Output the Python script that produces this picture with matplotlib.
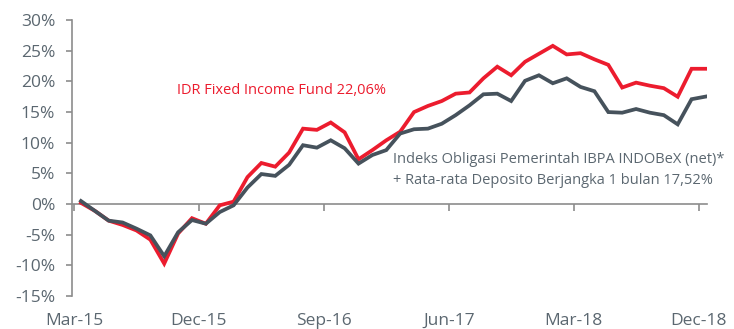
import matplotlib
matplotlib.use("Agg")
import matplotlib.pyplot as plt

# monthly cumulative returns, Mar-15 .. Dec-18 (%)
fund = [0.2, -1.1, -2.7, -3.4, -4.3, -5.8, -9.7, -4.8, -2.3, -3.2,
        -0.2, 0.4, 4.4, 6.7, 6.1, 8.4, 12.3, 12.1, 13.3, 11.7,
        7.3, 8.8, 10.4, 11.8, 15.0, 16.0, 16.8, 18.0, 18.2, 20.5,
        22.4, 21.0, 23.2, 24.5, 25.8, 24.4, 24.6, 23.6, 22.7, 19.0,
        19.8, 19.3, 18.9, 17.5, 22.06, 22.06]
bench = [0.5, -1.1, -2.7, -3.0, -4.0, -5.1, -8.5, -4.6, -2.6, -3.2,
         -1.3, -0.2, 2.7, 4.9, 4.6, 6.4, 9.6, 9.2, 10.4, 9.1,
         6.6, 8.0, 8.8, 11.5, 12.2, 12.3, 13.1, 14.5, 16.1, 17.9,
         18.0, 16.8, 20.1, 21.0, 19.7, 20.5, 19.1, 18.4, 15.0, 14.9,
         15.5, 14.9, 14.5, 13.0, 17.1, 17.52]
month_labels = ["Mar-15", "Dec-15", "Sep-16", "Jun-17", "Mar-18", "Dec-18"]
y_ticks = [-15, -10, -5, 0, 5, 10, 15, 20, 25, 30]

red = "#ec1c2e"
dark = "#46525c"
txt = "#5b6770"
axis_col = "#8c8c8c"

plt.rcParams["font.family"] = ["Open Sans", "DejaVu Sans"]

fig = plt.figure(figsize=(7.34, 3.29), dpi=100)
ax = fig.add_axes([0.098, 0.100, 0.865, 0.839])

x = list(range(len(fund)))
ax.plot(x, fund, color=red, lw=2.7, solid_joinstyle="miter", zorder=3)
ax.plot(x, bench, color=dark, lw=2.7, solid_joinstyle="miter", zorder=4)

ax.set_ylim(-15, 30)
ax.set_xlim(-0.65, 45.1)
ax.set_yticks(y_ticks)
ax.set_yticklabels([f"{v}%" for v in y_ticks], fontsize=12.5, color=txt)

for s in ["top", "right"]:
    ax.spines[s].set_visible(False)
ax.spines["left"].set_color(axis_col)
ax.spines["left"].set_linewidth(1.2)
ax.spines["bottom"].set_position(("data", 0))
ax.spines["bottom"].set_color(axis_col)
ax.spines["bottom"].set_linewidth(1.2)
ax.tick_params(axis="y", length=4, width=1.2, color=axis_col, pad=8)

# ticks sit on category boundaries every 9 months
tick_pos = [-0.5 + 9 * k for k in range(len(month_labels))]
ax.set_xticks(tick_pos)
ax.tick_params(axis="x", direction="out", length=5, width=1.2,
               color=axis_col, labelbottom=False)

# month labels along the bottom edge
sec = ax.secondary_xaxis("bottom")
sec.set_xticks(tick_pos)
sec.set_xticklabels(month_labels, fontsize=12.5, color=txt)
sec.tick_params(length=0, pad=12)
sec.spines["bottom"].set_visible(False)

H = 329
ax.text(177, H - 90, "IDR Fixed Income Fund 22,06%", transform=None,
        fontsize=10.5, color=red, va="center", ha="left")
ax.text(393, H - 170, "Indeks Obligasi Pemerintah IBPA INDOBeX (net)*\n"
        "+ Rata-rata Deposito Berjangka 1 bulan 17,52%",
        transform=None, fontsize=10.5, color=txt, va="center", ha="left",
        linespacing=1.55)

fig.savefig("out.png", dpi=100)
